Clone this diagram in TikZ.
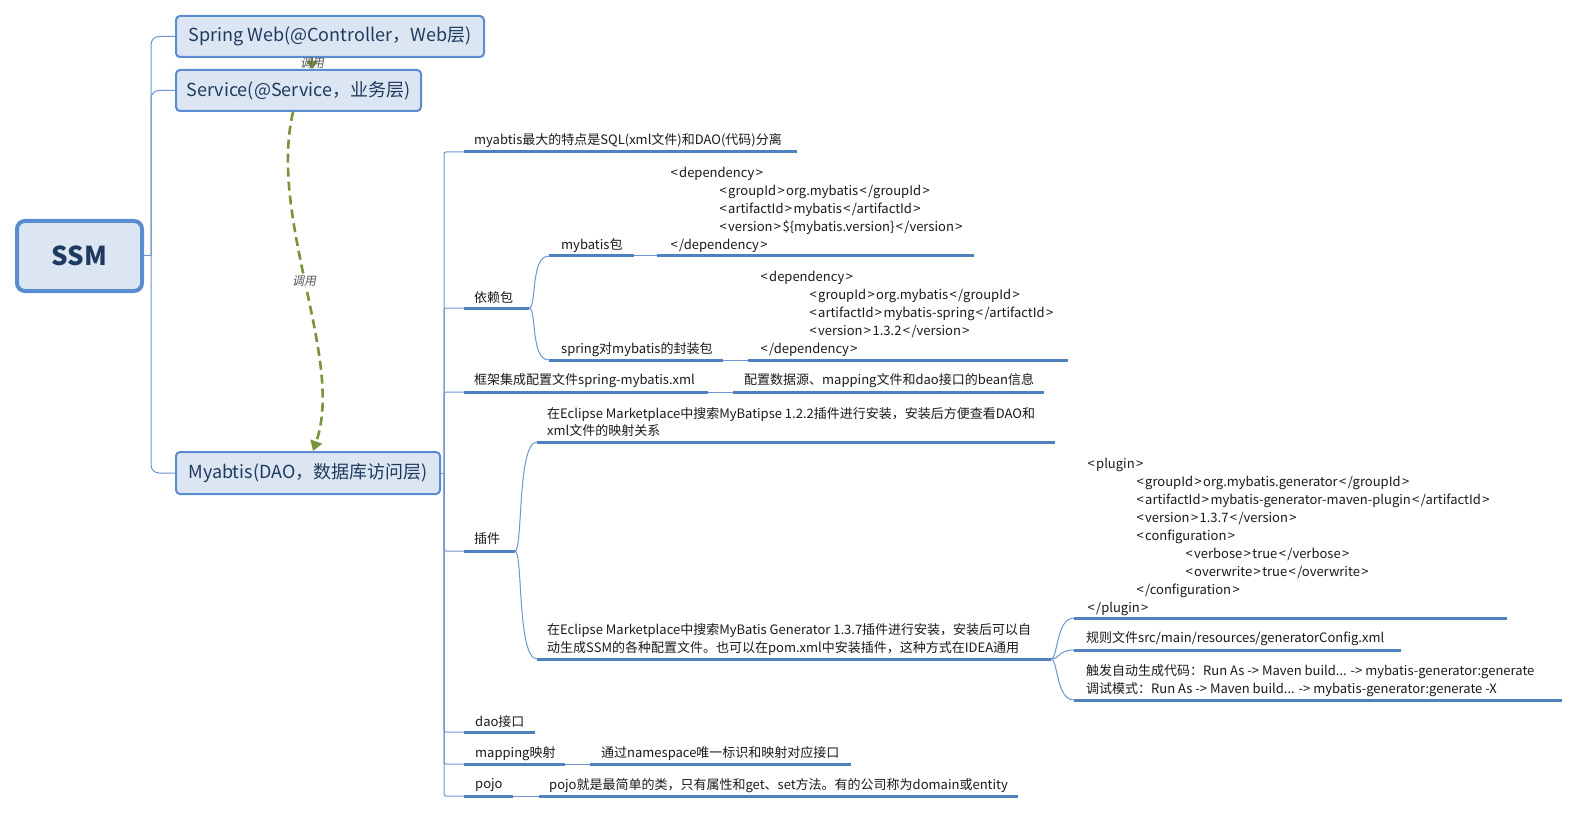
\documentclass[tikz,border=0pt]{standalone}
\usepackage{fontspec}
\setmainfont{Noto Sans CJK SC}
\newfontfamily\slfont[FakeSlant=0.2]{Noto Sans CJK SC}
\usetikzlibrary{arrows.meta}
\definecolor{boxfill}{HTML}{DCE6F2}
\definecolor{boxline}{HTML}{5B8BD0}
\definecolor{boxtext}{HTML}{1F3A5F}
\definecolor{uline}{HTML}{4F81BD}
\definecolor{tline}{HTML}{6E95CF}
\definecolor{callgreen}{HTML}{77933C}
\definecolor{txt}{HTML}{1A1A1A}
\tikzset{
  topbox/.style={draw=boxline, line width=2pt, fill=boxfill, rounded corners=4pt, text=boxtext,
    font=\fontsize{18}{22}\selectfont, inner sep=0pt, minimum height=41pt},
  leaf/.style={font=\fontsize{13}{18}\selectfont, inner sep=0pt, anchor=west, text=txt, yshift=-1.5pt},
  codeblk/.style={font=\fontsize{13}{18}\selectfont, inner sep=0pt, anchor=base west, align=left, text=txt},
  ul/.style={draw=uline, line width=3pt},
  thinln/.style={draw=tline, line width=1pt},
  calllbl/.style={font=\slfont\fontsize{12}{14}\selectfont, text=black!65, inner sep=1pt},
}
\newcommand{\ind}{\hspace*{49pt}}
\newcommand{\La}{\kern1.4pt<\kern1.4pt}
\newcommand{\Ra}{\kern1.4pt>\kern1.4pt}
\newcommand{\dn}[1]{\raisebox{-1.5pt}{#1}}
\begin{document}
\begin{tikzpicture}[x=1pt,y=-1pt]
\fill[white] (0,0) rectangle (1580,813);
\useasboundingbox (0,0) rectangle (1580,813);

% main boxes
\node[topbox, minimum width=125pt, minimum height=70pt, line width=4pt, rounded corners=8pt,
  font=\bfseries\fontsize{26}{30}\selectfont] (ssm) at (79.5,256) {SSM};
\node[topbox, minimum width=308pt] (web) at (330,36.5) {\dn{Spring Web(@Controller，Web层)}};
\node[topbox, minimum width=245pt] (svc) at (298.5,90.5) {\dn{Service(@Service，业务层)}};
\node[topbox, minimum width=264pt, minimum height=42pt] (dao) at (308,473) {\dn{Myabtis(DAO，数据库访问层)}};

% left tree
\coordinate (lt) at (151,256);
\draw[thinln] (ssm.east) -- (lt);
\draw[thinln, rounded corners=8pt] (lt) |- (web.west);
\draw[thinln, rounded corners=8pt] (lt) |- (svc.west);
\draw[thinln, rounded corners=8pt] (lt) |- (dao.west);

% call arrows
\draw[callgreen, line width=2pt, -{Triangle[length=8pt,width=11pt]}]
  ([xshift=-18pt]web.south) -- ([xshift=13.5pt]svc.north)
  node[midway, calllbl] {调用};
\draw[callgreen, line width=2.6pt, dash pattern=on 9pt off 5pt, -{Triangle[length=10pt,width=12pt]}]
  ([xshift=-5.5pt]svc.south) .. controls (268,220) and (345,360) .. ([xshift=5pt]dao.north)
  node[pos=0.48, calllbl, fill=white] {调用};

% right tree trunk
\coordinate (rt) at (444,473);
\draw[thinln] (dao.east) -- (rt);

% child 1
\coordinate (c1s) at (464,152); \coordinate (c1e) at (797,152);
\node[leaf] (t1) at (474,139) {myabtis最大的特点是SQL(xml文件)和DAO(代码)分离};
\draw[thinln, rounded corners=2pt] (rt) |- (c1s);
\draw[ul] (c1s) -- (c1e);

% child 2
\coordinate (c2s) at (464,308); \coordinate (c2e) at (529,308);
\node[leaf] (t2) at (474,296) {依赖包};
\draw[thinln, rounded corners=2pt] (rt) |- (c2s);
\draw[ul] (c2s) -- (c2e);
\coordinate (c2as) at (549,256); \coordinate (c2ae) at (634,256);
\coordinate (c2ks) at (657,256); \coordinate (c2ke) at (974,256);
\node[leaf] (t2a) at (561,244) {mybatis包};
\node[codeblk] (k2a) at (669,250) {\La dependency\Ra\\
\ind\La groupId\Ra org.mybatis\La/groupId\Ra\\
\ind\La artifactId\Ra mybatis\La/artifactId\Ra\\
\ind\La version\Ra\$\{mybatis.version\}\La/version\Ra\\
\La/dependency\Ra};
\draw[thinln] (c2e) .. controls (537,308) and (530,256) .. (c2as);
\draw[ul] (c2as) -- (c2ae);
\draw[thinln] (c2ae) -- (c2ks);
\draw[ul] (c2ks) -- (c2ke);
\coordinate (c2bs) at (549,360); \coordinate (c2be) at (723,360);
\coordinate (c2ls) at (748,360); \coordinate (c2le) at (1068,360);
\node[leaf] (t2b) at (561,348) {spring对mybatis的封装包};
\node[codeblk] (k2b) at (759,353) {\La dependency\Ra\\
\ind\La groupId\Ra org.mybatis\La/groupId\Ra\\
\ind\La artifactId\Ra mybatis-spring\La/artifactId\Ra\\
\ind\La version\Ra 1.3.2\La/version\Ra\\
\La/dependency\Ra};
\draw[thinln] (c2e) .. controls (537,308) and (530,360) .. (c2bs);
\draw[ul] (c2bs) -- (c2be);
\draw[thinln] (c2be) -- (c2ls);
\draw[ul] (c2ls) -- (c2le);

% child 3
\coordinate (c3s) at (464,392); \coordinate (c3e) at (708,392);
\coordinate (c3ms) at (733,392); \coordinate (c3me) at (1044,392);
\node[leaf] (t3) at (474,379) {框架集成配置文件spring-mybatis.xml};
\node[leaf] (t3a) at (744,379) {配置数据源、mapping文件和dao接口的bean信息};
\draw[thinln, rounded corners=2pt] (rt) |- (c3s);
\draw[ul] (c3s) -- (c3e);
\draw[thinln] (c3e) -- (c3ms);
\draw[ul] (c3ms) -- (c3me);

% child 4
\coordinate (c4s) at (464,551); \coordinate (c4e) at (515,551);
\node[leaf] (t4) at (474,537) {插件};
\draw[thinln, rounded corners=2pt] (rt) |- (c4s);
\draw[ul] (c4s) -- (c4e);
\coordinate (c4as) at (537,442); \coordinate (c4ae) at (1055,442);
\node[codeblk, font=\fontsize{13}{17}\selectfont] (t4a) at (547,435)
  {在Eclipse Marketplace中搜索MyBatipse 1.2.2插件进行安装，安装后方便查看DAO和\\xml文件的映射关系};
\draw[thinln] (c4e) .. controls (523,551) and (517,442) .. (c4as);
\draw[ul] (c4as) -- (c4ae);
\coordinate (c4bs) at (537,659); \coordinate (c4be) at (1051,659);
\node[codeblk] (t4b) at (547,652)
  {在Eclipse Marketplace中搜索MyBatis Generator 1.3.7插件进行安装，安装后可以自\\动生成SSM的各种配置文件。也可以在pom.xml中安装插件，这种方式在IDEA通用};
\draw[thinln] (c4e) .. controls (523,551) and (517,659) .. (c4bs);
\draw[ul] (c4bs) -- (c4be);
% grandchildren of c4b
\coordinate (g1s) at (1074,618); \coordinate (g1e) at (1507,618);
\node[codeblk] (k4) at (1086,612) {\La plugin\Ra\\
\ind\La groupId\Ra org.mybatis.generator\La/groupId\Ra\\
\ind\La artifactId\Ra mybatis-generator-maven-plugin\La/artifactId\Ra\\
\ind\La version\Ra 1.3.7\La/version\Ra\\
\ind\La configuration\Ra\\
\ind\ind\La verbose\Ra true\La/verbose\Ra\\
\ind\ind\La overwrite\Ra true\La/overwrite\Ra\\
\ind\La/configuration\Ra\\
\La/plugin\Ra};
\draw[thinln] (c4be) .. controls (1058,659) and (1056,618) .. (g1s);
\draw[ul] (g1s) -- (g1e);
\coordinate (g2s) at (1074,650); \coordinate (g2e) at (1401,650);
\node[leaf] (g2t) at (1086,637) {规则文件src/main/resources/generatorConfig.xml};
\draw[thinln] (c4be) .. controls (1060,659) and (1058,650) .. (g2s);
\draw[ul] (g2s) -- (g2e);
\coordinate (g3s) at (1074,700); \coordinate (g3e) at (1562,700);
\node[codeblk] (g3t) at (1086,693) {触发自动生成代码：Run As -> Maven build... -> mybatis-generator:generate\\调试模式：Run As -> Maven build... -> mybatis-generator:generate -X};
\draw[thinln] (c4be) .. controls (1058,659) and (1056,700) .. (g3s);
\draw[ul] (g3s) -- (g3e);

% child 5
\coordinate (c5s) at (464,732); \coordinate (c5e) at (535,732);
\node[leaf] (t5) at (475,720) {dao接口};
\draw[thinln, rounded corners=2pt] (rt) |- (c5s);
\draw[ul] (c5s) -- (c5e);

% child 6
\coordinate (c6s) at (464,764); \coordinate (c6e) at (565,764);
\coordinate (c6ms) at (590,764); \coordinate (c6me) at (851,764);
\node[leaf] (t6) at (475,752) {mapping映射};
\node[leaf] (t6a) at (601,752) {通过namespace唯一标识和映射对应接口};
\draw[thinln, rounded corners=2pt] (rt) |- (c6s);
\draw[ul] (c6s) -- (c6e);
\draw[thinln] (c6e) -- (c6ms);
\draw[ul] (c6ms) -- (c6me);

% child 7
\coordinate (c7s) at (464,796); \coordinate (c7e) at (513,796);
\coordinate (c7ms) at (539,796); \coordinate (c7me) at (1018,796);
\node[leaf] (t7) at (475,784) {pojo};
\node[leaf] (t7a) at (549,784) {pojo就是最简单的类，只有属性和get、set方法。有的公司称为domain或entity};
\draw[thinln, rounded corners=2pt] (rt) |- (c7s);
\draw[ul] (c7s) -- (c7e);
\draw[thinln] (c7e) -- (c7ms);
\draw[ul] (c7ms) -- (c7me);
\end{tikzpicture}
\end{document}
